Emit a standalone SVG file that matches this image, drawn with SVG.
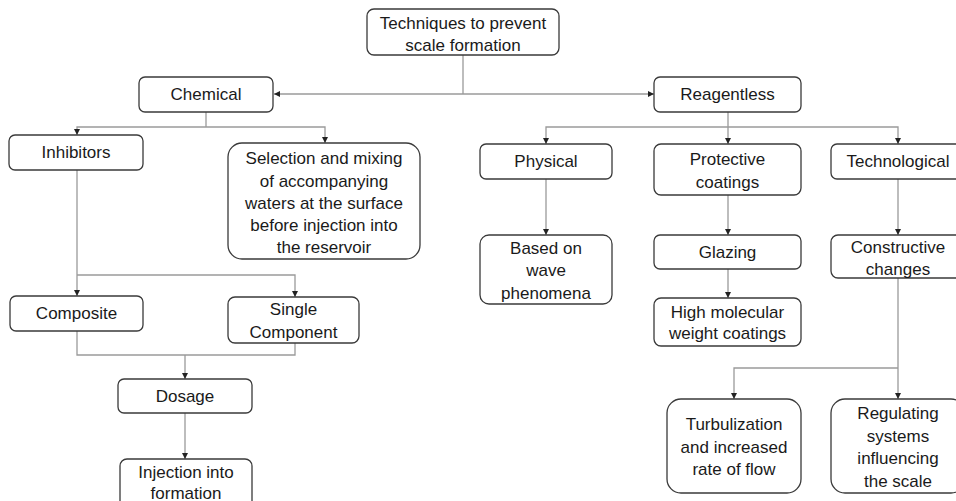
<svg xmlns="http://www.w3.org/2000/svg" width="956" height="501" viewBox="0 0 956 501">
<defs>
<marker id="arr" viewBox="0 0 6 6" refX="6" refY="3" markerWidth="6" markerHeight="6" markerUnits="userSpaceOnUse" orient="auto">
<path d="M0,0 L6,3 L0,6 z" fill="#222"/>
</marker>
<style>
.box{fill:#fff;stroke:#3a3a3a;stroke-width:1.3}
.t{font-family:"Liberation Sans",Arial,sans-serif;font-size:17px;fill:#1a1a1a;text-anchor:middle;dominant-baseline:central}
.c{fill:none;stroke:#9a9a9a;stroke-width:1.3}
.ca{fill:none;stroke:#9a9a9a;stroke-width:1.3;marker-end:url(#arr)}
</style>
</defs>
<rect width="956" height="501" fill="#fff"/>
<g id="connectors">
<path class="c" d="M463,55 V94"/>
<path class="ca" d="M463,94 H274"/>
<path class="ca" d="M463,94 H654"/>
<path class="c" d="M206,112 V127"/>
<path class="ca" d="M206,127 H77 V135"/>
<path class="ca" d="M206,127 H325 V143"/>
<path class="ca" d="M77,170 V296"/>
<path class="ca" d="M77,275 H295 V297"/>
<path class="c" d="M77,331 V355 H295 V343"/>
<path class="ca" d="M185,355 V379"/>
<path class="ca" d="M185,413 V459"/>
<path class="c" d="M728,112 V127"/>
<path class="ca" d="M728,127 H546 V144"/>
<path class="ca" d="M728,127 V144"/>
<path class="ca" d="M728,127 H898 V144"/>
<path class="ca" d="M546,179 V235"/>
<path class="ca" d="M728,195 V235"/>
<path class="ca" d="M728,269 V298"/>
<path class="ca" d="M898,179 V235"/>
<path class="c" d="M898,278 V368"/>
<path class="ca" d="M898,368 H734 V399"/>
<path class="ca" d="M898,368 V399"/>
</g>
<g id="n-root"><rect class="box" x="367" y="9" width="192" height="46" rx="7"/><text class="t" x="463" y="23">Techniques to prevent</text><text class="t" x="463" y="45">scale formation</text></g>
<g id="n-chemical"><rect class="box" x="139" y="77" width="134" height="35" rx="6"/><text class="t" x="206" y="94.5">Chemical</text></g>
<g id="n-reagentless"><rect class="box" x="654" y="77" width="147" height="35" rx="6"/><text class="t" x="727.5" y="94.5">Reagentless</text></g>
<g id="n-inhibitors"><rect class="box" x="9" y="135" width="134" height="35" rx="6"/><text class="t" x="76" y="152.5">Inhibitors</text></g>
<g id="n-selection"><rect class="box" x="228" y="143" width="192" height="116" rx="14"/><text class="t" x="324" y="158">Selection and mixing</text><text class="t" x="324" y="181">of accompanying</text><text class="t" x="324" y="203">waters at the surface</text><text class="t" x="324" y="225">before injection into</text><text class="t" x="324" y="247">the reservoir</text></g>
<g id="n-composite"><rect class="box" x="10" y="296" width="133" height="35" rx="6"/><text class="t" x="76.5" y="313.5">Composite</text></g>
<g id="n-single"><rect class="box" x="228" y="297" width="131" height="46" rx="7"/><text class="t" x="293.5" y="309">Single</text><text class="t" x="293.5" y="332">Component</text></g>
<g id="n-dosage"><rect class="box" x="118" y="379" width="134" height="34" rx="6"/><text class="t" x="185" y="396">Dosage</text></g>
<g id="n-injection"><rect class="box" x="120" y="459" width="132" height="50" rx="7"/><text class="t" x="186" y="472">Injection into</text><text class="t" x="186" y="493">formation</text></g>
<g id="n-physical"><rect class="box" x="480" y="144" width="132" height="35" rx="6"/><text class="t" x="546" y="161.5">Physical</text></g>
<g id="n-protective"><rect class="box" x="654" y="144" width="147" height="51" rx="7"/><text class="t" x="727.5" y="159">Protective</text><text class="t" x="727.5" y="182">coatings</text></g>
<g id="n-technological"><rect class="box" x="831" y="144" width="134" height="35" rx="6"/><text class="t" x="898" y="161.5">Technological</text></g>
<g id="n-based"><rect class="box" x="480" y="235" width="132" height="69" rx="9"/><text class="t" x="546" y="248">Based on</text><text class="t" x="546" y="270">wave</text><text class="t" x="546" y="293">phenomena</text></g>
<g id="n-glazing"><rect class="box" x="654" y="235" width="147" height="34" rx="6"/><text class="t" x="727.5" y="252">Glazing</text></g>
<g id="n-highmol"><rect class="box" x="654" y="298" width="147" height="48" rx="7"/><text class="t" x="727.5" y="312">High molecular</text><text class="t" x="727.5" y="333">weight coatings</text></g>
<g id="n-constructive"><rect class="box" x="831" y="235" width="134" height="43" rx="7"/><text class="t" x="898" y="247">Constructive</text><text class="t" x="898" y="269">changes</text></g>
<g id="n-turbulization"><rect class="box" x="667" y="399" width="134" height="94" rx="14"/><text class="t" x="734" y="424">Turbulization</text><text class="t" x="734" y="447">and increased</text><text class="t" x="734" y="469">rate of flow</text></g>
<g id="n-regulating"><rect class="box" x="831" y="399" width="134" height="94" rx="14"/><text class="t" x="898" y="413">Regulating</text><text class="t" x="898" y="436">systems</text><text class="t" x="898" y="458">influencing</text><text class="t" x="898" y="481">the scale</text></g>
</svg>
